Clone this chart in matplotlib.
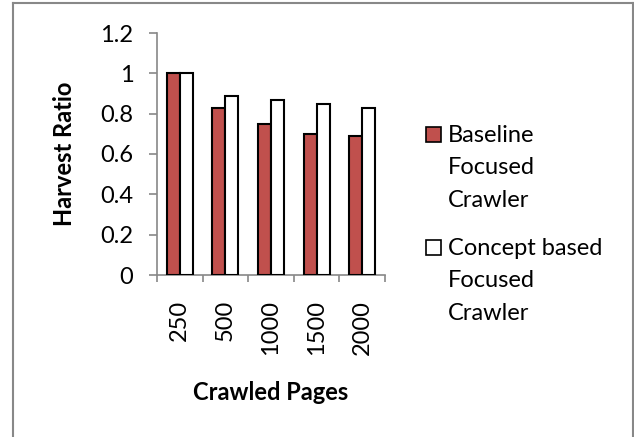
import matplotlib
matplotlib.use("Agg")
import matplotlib.pyplot as plt
from matplotlib.patches import Rectangle
from matplotlib.lines import Line2D
import numpy as np

plt.rcParams['font.family'] = ['Lato', 'DejaVu Sans']

categories = ["250", "500", "1000", "1500", "2000"]
baseline = [1.0, 0.83, 0.75, 0.70, 0.69]
concept = [1.0, 0.89, 0.87, 0.85, 0.83]
series_names = ["Baseline\nFocused\nCrawler", "Concept based\nFocused\nCrawler"]
series_colors = ["#C0504D", "#FFFFFF"]
y_ticks = [0, 0.2, 0.4, 0.6, 0.8, 1, 1.2]

W, H = 634, 437
DPI = 100
FS = 17
fig = plt.figure(figsize=(W / DPI, H / DPI), dpi=DPI)

def px(x0, y0, x1, y1):
    return [x0 / W, 1 - y1 / H, (x1 - x0) / W, (y1 - y0) / H]

ax = fig.add_axes(px(157, 33, 385, 275))

x = np.arange(len(categories))
bw = 0.285
grey = "#888888"
ax.bar(x - bw / 2, baseline, bw, color=series_colors[0], edgecolor="black", linewidth=1.5, zorder=3)
ax.bar(x + bw / 2, concept, bw, color=series_colors[1], edgecolor="black", linewidth=1.5, zorder=3)

ax.set_xlim(-0.5, len(categories) - 0.5)
ax.set_ylim(0, 1.2)
ax.set_yticks(y_ticks)
ax.set_yticklabels([f"{v:g}" for v in y_ticks])
ax.set_xticks(x)
ax.set_xticklabels(categories, rotation=90)
ax.set_xticks(np.arange(-0.5, len(categories)), minor=True)

for s in ["top", "right"]:
    ax.spines[s].set_visible(False)
for s in ["left", "bottom"]:
    ax.spines[s].set_color(grey)
    ax.spines[s].set_linewidth(1.2)

ax.tick_params(axis="y", length=5.5, width=1.2, color=grey, pad=11.5, labelsize=FS)
ax.tick_params(axis="x", which="major", length=0, pad=18, labelsize=FS)
ax.tick_params(axis="x", which="minor", length=5.2, width=1.2, color=grey)

ax.set_ylabel("Harvest Ratio", fontsize=FS, fontweight="bold")
ax.yaxis.set_label_coords(-92 / 228, 0.5)
ax.yaxis.label.set_verticalalignment("center")
ax.set_xlabel("Crawled Pages", fontsize=FS, fontweight="bold")
ax.xaxis.set_label_coords(0.5, -117 / 242)
ax.xaxis.label.set_verticalalignment("center")

# legend drawn in figure pixels
leg_entries = [(series_names[0], series_colors[0], 127), (series_names[1], series_colors[1], 240)]
for label, col, top in leg_entries:
    fig.add_artist(Rectangle((426 / W, 1 - (top + 15) / H), 15 / W, 15 / H,
                             facecolor=col, edgecolor="black", linewidth=1.2,
                             transform=fig.transFigure))
    fig.text(448 / W, 1 - (top - 2) / H, label, fontsize=FS, va="top", ha="left",
             linespacing=1.67)

# outer frame
for xs, ys in [((13, 13), (3, 437)), ((13, 633), (3, 3)), ((633, 633), (3, 437))]:
    fig.add_artist(Line2D([v / W for v in xs], [1 - v / H for v in ys],
                          color=grey, linewidth=1.5, transform=fig.transFigure))

fig.savefig("out.png", dpi=DPI)
